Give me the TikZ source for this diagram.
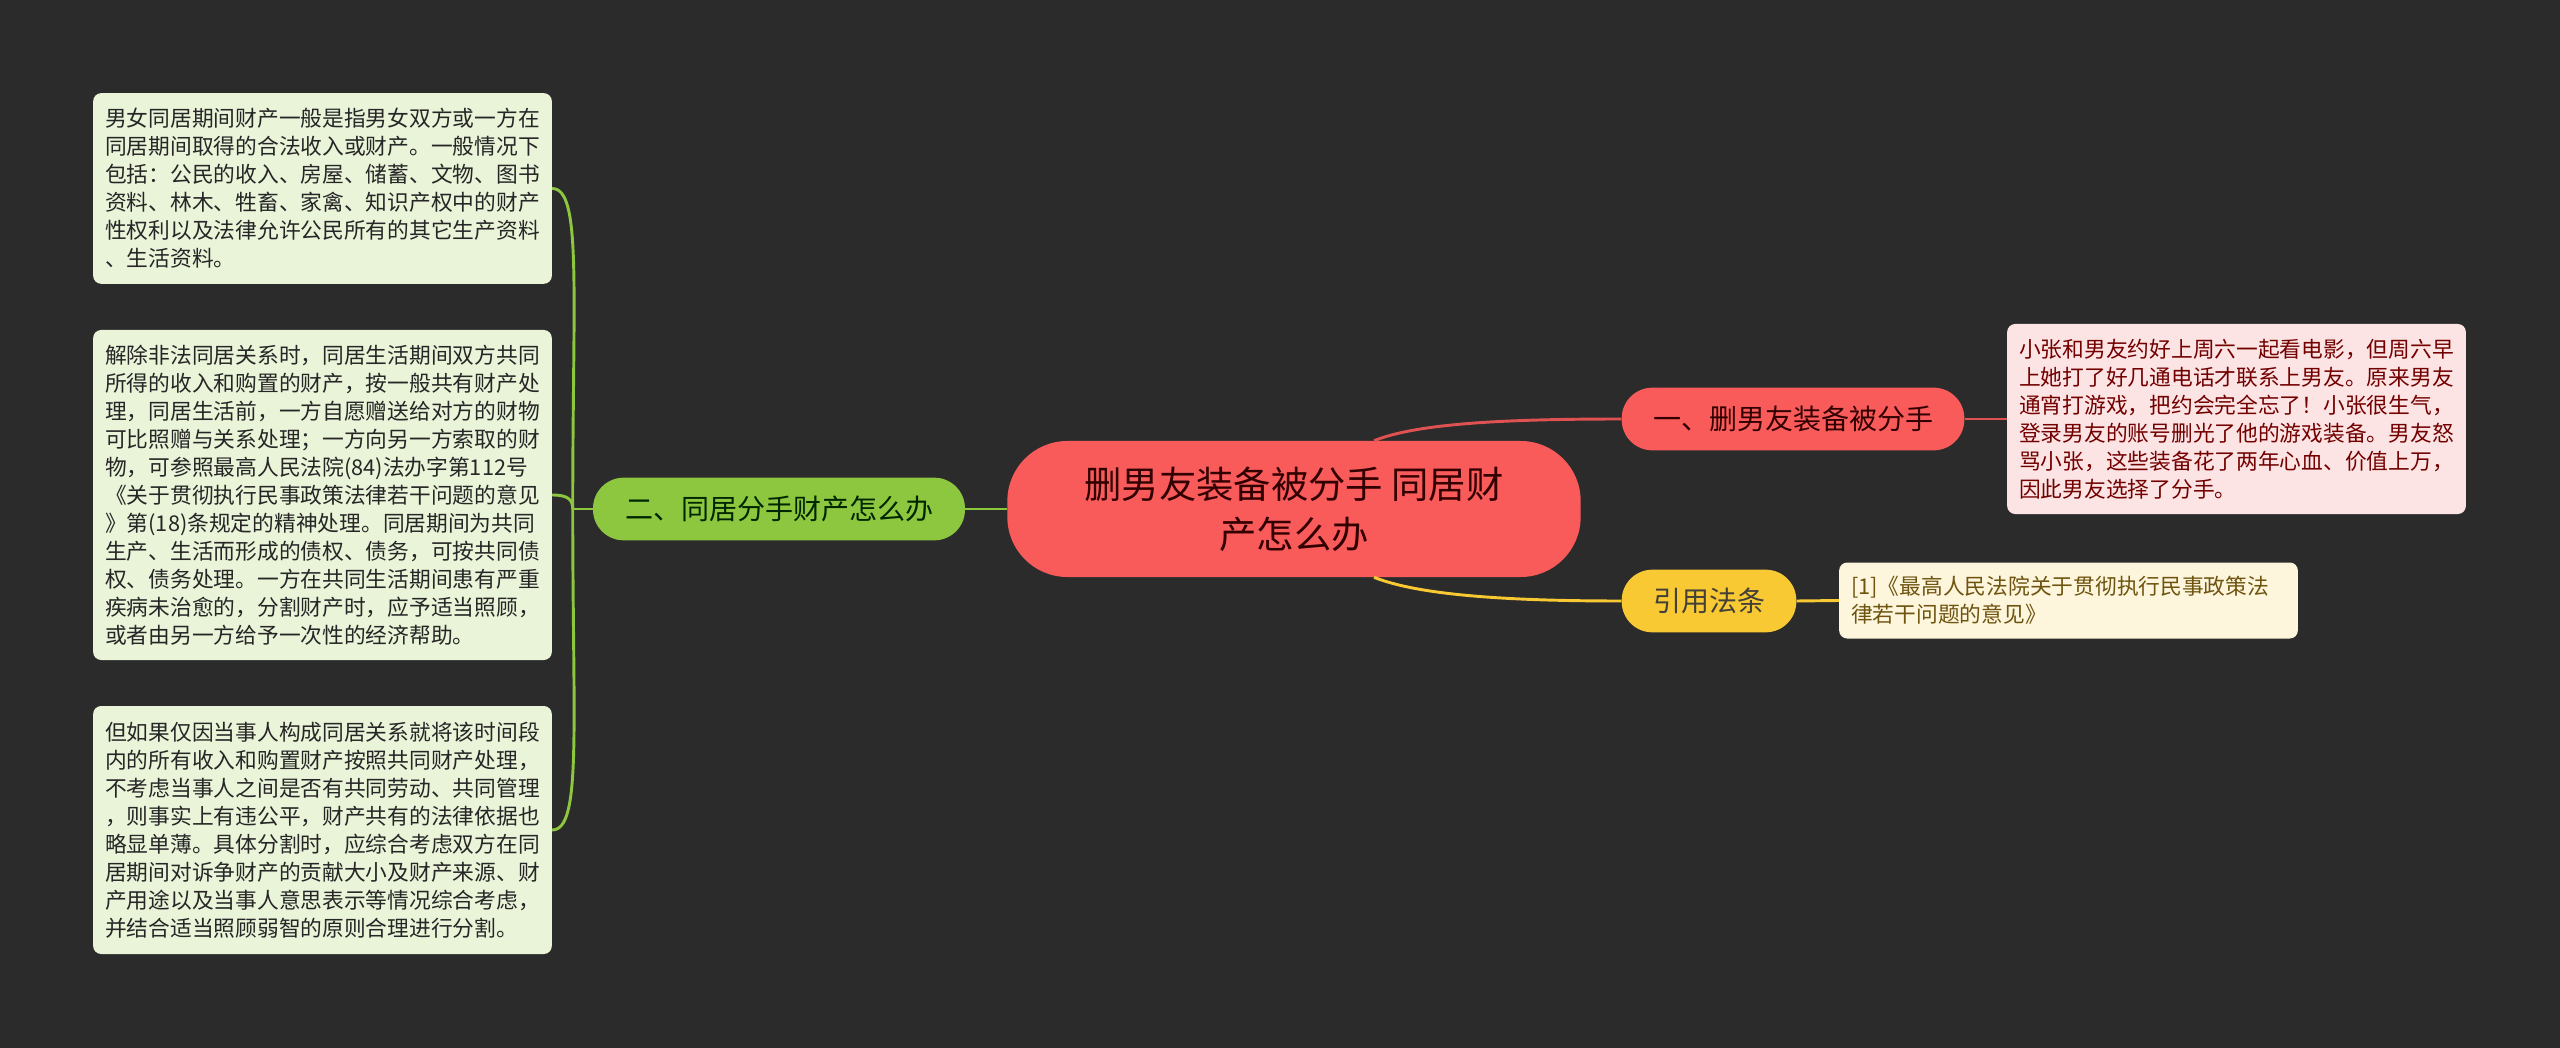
\documentclass[tikz,border=0pt]{standalone}
\usepackage{fontspec}
\usepackage{tikz}
\newfontfamily\cjk{Noto Sans CJK SC}

\definecolor{bgc}{HTML}{2B2B2B}
\definecolor{redc}{HTML}{F95B5B}
\definecolor{greenc}{HTML}{8DC63F}
\definecolor{yellowc}{HTML}{F8C933}
\definecolor{leafg}{HTML}{EAF4D9}
\definecolor{leafr}{HTML}{FDE4E4}
\definecolor{leafy}{HTML}{FDF6DC}
\definecolor{reftext}{HTML}{6E5410}

\begin{document}
\begin{tikzpicture}[x=0.75pt,y=-0.75pt,
  topic/.style={fill=redc, rounded corners=45pt, minimum width=430pt,
    minimum height=102pt, align=center, text=black!80!red,
    font=\cjk\fontsize{28pt}{37.5pt}\selectfont},
  branch/.style={rounded corners=23pt, minimum height=47pt, inner xsep=0pt,
    font=\cjk\fontsize{21pt}{25pt}\selectfont},
  leaf/.style={rounded corners=6pt, text width=326pt, inner xsep=9pt,
    inner ysep=8pt, align=left, font=\cjk\fontsize{16.3pt}{21pt}\selectfont},
  redline/.style={draw=redc!90!black, line width=2.2pt},
  greenline/.style={draw=greenc, line width=2.2pt},
  yellowline/.style={draw=yellowc, line width=2.2pt}
]

\fill[bgc] (0,0) rectangle (2560,1048);

% centre
\node[topic] (root) at (1294,509) {删男友装备被分手 同居财\\产怎么办};

% branches
\node[branch, fill=redc, minimum width=257pt, text=black!80!red] (one)
  at (1793,419) {一、删男友装备被分手};
\node[branch, fill=greenc, minimum width=279pt, text=black!85!green] (two)
  at (779,509) {二、同居分手财产怎么办};
\node[branch, fill=yellowc, minimum width=131pt, text=black!85!yellow] (law)
  at (1709,601) {引用法条};

% leaves right
\node[leaf, fill=leafr, text=red!45!black, minimum height=142.5pt] (story)
  at (2236.5,419) {小张和男友约好上周六一起看电影，但周六早\\
上她打了好几通电话才联系上男友。原来男友\\
通宵打游戏，把约会完全忘了！小张很生气，\\
登录男友的账号删光了他的游戏装备。男友怒\\
骂小张，这些装备花了两年心血、价值上万，\\
因此男友选择了分手。};
\node[leaf, fill=leafy, text=reftext, minimum height=57pt] (ref)
  at (2068.5,600.5) {[1]《最高人民法院关于贯彻执行民事政策法\\
律若干问题的意见》};

% leaves left
\node[leaf, fill=leafg, text=black!85, minimum height=143pt] (scope)
  at (322.5,188.5) {男女同居期间财产一般是指男女双方或一方在\\
同居期间取得的合法收入或财产。一般情况下\\
包括：公民的收入、房屋、储蓄、文物、图书\\
资料、林木、牲畜、家禽、知识产权中的财产\\
性权利以及法律允许公民所有的其它生产资料\\
、生活资料。};
\node[leaf, fill=leafg, text=black!85, minimum height=247.5pt] (split)
  at (322.5,495) {解除非法同居关系时，同居生活期间双方共同\\
所得的收入和购置的财产，按一般共有财产处\\
理，同居生活前，一方自愿赠送给对方的财物\\
可比照赠与关系处理；一方向另一方索取的财\\
物，可参照最高人民法院(84)法办字第112号\\
《关于贯彻执行民事政策法律若干问题的意见\\
》第(18)条规定的精神处理。同居期间为共同\\
生产、生活而形成的债权、债务，可按共同债\\
权、债务处理。一方在共同生活期间患有严重\\
疾病未治愈的，分割财产时，应予适当照顾，\\
或者由另一方给予一次性的经济帮助。};
\node[leaf, fill=leafg, text=black!85, minimum height=186pt] (fair)
  at (322.5,830) {但如果仅因当事人构成同居关系就将该时间段\\
内的所有收入和购置财产按照共同财产处理，\\
不考虑当事人之间是否有共同劳动、共同管理\\
，则事实上有违公平，财产共有的法律依据也\\
略显单薄。具体分割时，应综合考虑双方在同\\
居期间对诉争财产的贡献大小及财产来源、财\\
产用途以及当事人意思表示等情况综合考虑，\\
并结合适当照顾弱智的原则合理进行分割。};

% connectors
\draw[redline] ([xshift=60pt]root.north) .. controls +(40,-16) and +(-130,0) .. (one.west);
\draw[yellowline] ([xshift=60pt]root.south) .. controls +(40,16) and +(-130,0) .. (law.west);
\draw[greenline] (root.west) -- (two.east);
\draw[redline] (one.east) -- (story.west);
\draw[yellowline] (law.east) -- (ref.west);

\coordinate (trunk) at ([xshift=-15pt]two.west);
\draw[greenline] (two.west) -- (trunk);
\draw[greenline] (trunk) .. controls +(0,-220) and +(30,0) .. (scope.east);
\draw[greenline] (trunk) .. controls +(0,-10) and +(15,0) .. (split.east);
\draw[greenline] (trunk) .. controls +(0,220) and +(30,0) .. (fair.east);

\end{tikzpicture}
\end{document}
